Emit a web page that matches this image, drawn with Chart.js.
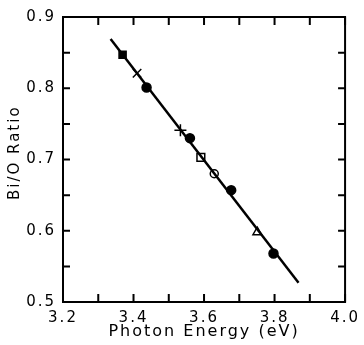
<!DOCTYPE html>
<html>
<head>
<meta charset="utf-8">
<script src="https://cdn.jsdelivr.net/npm/chart.js@4"></script>
<style>
  html, body { margin: 0; padding: 0; background: #fff; }
  #wrap { width: 364px; height: 345px; }
</style>
</head>
<body>
<div id="wrap"><canvas id="chart"></canvas></div>
<script>
// fitted line end points
const fitX = [3.335, 3.868];
const fitY = [0.869, 0.527];

// measured points, one list per marker type
const filledSquareX = [3.369];
const filledSquareY = [0.847];
const crossX = [3.41];
const crossY = [0.821];
const filledCircleX = [3.437, 3.56, 3.677, 3.797];
const filledCircleY = [0.801, 0.730, 0.657, 0.568];
const plusX = [3.533];
const plusY = [0.741];
const openSquareX = [3.591];
const openSquareY = [0.703];
const openCircleX = [3.629];
const openCircleY = [0.680];
const openTriangleX = [3.751];
const openTriangleY = [0.598];

const xMin = 3.2, xMax = 4.0, xStep = 0.1;
const yMin = 0.5, yMax = 0.9, yStep = 0.05;

function pts(xs, ys) {
    return xs.map((x, i) => ({ x: x, y: ys[i] }));
}

function markerSet(xs, ys, style, filled, radius) {
    return {
        type: 'scatter',
        data: pts(xs, ys),
        pointStyle: style,
        pointRadius: radius,
        pointBorderWidth: 1.5,
        pointBorderColor: '#000',
        pointBackgroundColor: filled ? '#000' : '#fff',
        showLine: false
    };
}

// the old plotter lettering is wide, spread the glyphs a little
const wideText = {
    id: 'wideText',
    beforeDraw(chart) { chart.ctx.letterSpacing = '2px'; },
    afterDraw(chart) { chart.ctx.letterSpacing = '0px'; }
};

// inward ticks on all four sides plus the frame
const frameTicks = {
    id: 'frameTicks',
    afterDraw(chart) {
        const ctx = chart.ctx;
        const a = chart.chartArea;
        const xs = chart.scales.x, ys = chart.scales.y;
        ctx.save();
        ctx.strokeStyle = '#000';
        ctx.lineWidth = 2;
        ctx.strokeRect(a.left, a.top, a.right - a.left, a.bottom - a.top);
        ctx.beginPath();
        xs.ticks.forEach(t => {
            const px = xs.getPixelForValue(t.value);
            ctx.moveTo(px, a.bottom); ctx.lineTo(px, a.bottom - 8);
            ctx.moveTo(px, a.top); ctx.lineTo(px, a.top + 8);
        });
        ys.ticks.forEach(t => {
            const py = ys.getPixelForValue(t.value);
            ctx.moveTo(a.left, py); ctx.lineTo(a.left + 7, py);
            ctx.moveTo(a.right, py); ctx.lineTo(a.right - 7, py);
        });
        ctx.stroke();
        ctx.restore();
    }
};

const font = { family: 'DejaVu Sans', size: 15 };

new Chart(document.getElementById('chart'), {
    type: 'scatter',
    data: {
        datasets: [
            {
                type: 'line',
                data: pts(fitX, fitY),
                borderColor: '#000',
                borderWidth: 2.5,
                pointRadius: 0,
                fill: false
            },
            markerSet(filledSquareX, filledSquareY, 'rect', true, 5),
            markerSet(crossX, crossY, 'crossRot', false, 6),
            markerSet(filledCircleX, filledCircleY, 'circle', true, 4.5),
            markerSet(plusX, plusY, 'cross', false, 6),
            markerSet(openSquareX, openSquareY, 'rect', false, 5.5),
            markerSet(openCircleX, openCircleY, 'circle', false, 4),
            markerSet(openTriangleX, openTriangleY, 'triangle', false, 5)
        ]
    },
    options: {
        responsive: true,
        maintainAspectRatio: false,
        animation: false,
        layout: { padding: { top: 17, right: 16, left: 0, bottom: 0 } },
        plugins: { legend: { display: false }, tooltip: { enabled: false } },
        scales: {
            x: {
                type: 'linear',
                min: xMin, max: xMax,
                grid: { display: false, drawTicks: false },
                border: { display: false },
                ticks: {
                    stepSize: xStep,
                    autoSkip: false,
                    maxRotation: 0,
                    padding: 7,
                    color: '#000',
                    font: font,
                    callback: v => Math.round(v * 10) % 2 === 0 ? v.toFixed(1) : ''
                },
                title: {
                    display: true,
                    text: 'Photon Energy (eV)',
                    color: '#000',
                    font: { family: 'DejaVu Sans', size: 16 },
                    padding: { top: 0, bottom: 4 }
                },
                afterFit: s => { s.height = 43; }
            },
            y: {
                type: 'linear',
                min: yMin, max: yMax,
                grid: { display: false, drawTicks: false },
                border: { display: false },
                ticks: {
                    stepSize: yStep,
                    autoSkip: false,
                    padding: 7,
                    color: '#000',
                    font: font,
                    callback: v => Math.round(v * 100) % 10 === 0 ? v.toFixed(1) : ''
                },
                title: {
                    display: true,
                    // leading spaces nudge the label up a bit, as in the original
                    text: '  Bi/O Ratio',
                    color: '#000',
                    font: { family: 'DejaVu Sans', size: 15 },
                    padding: { top: 6, bottom: 0 }
                },
                afterFit: s => { s.width = 63; }
            }
        }
    },
    plugins: [wideText, frameTicks]
});
</script>
</body>
</html>
